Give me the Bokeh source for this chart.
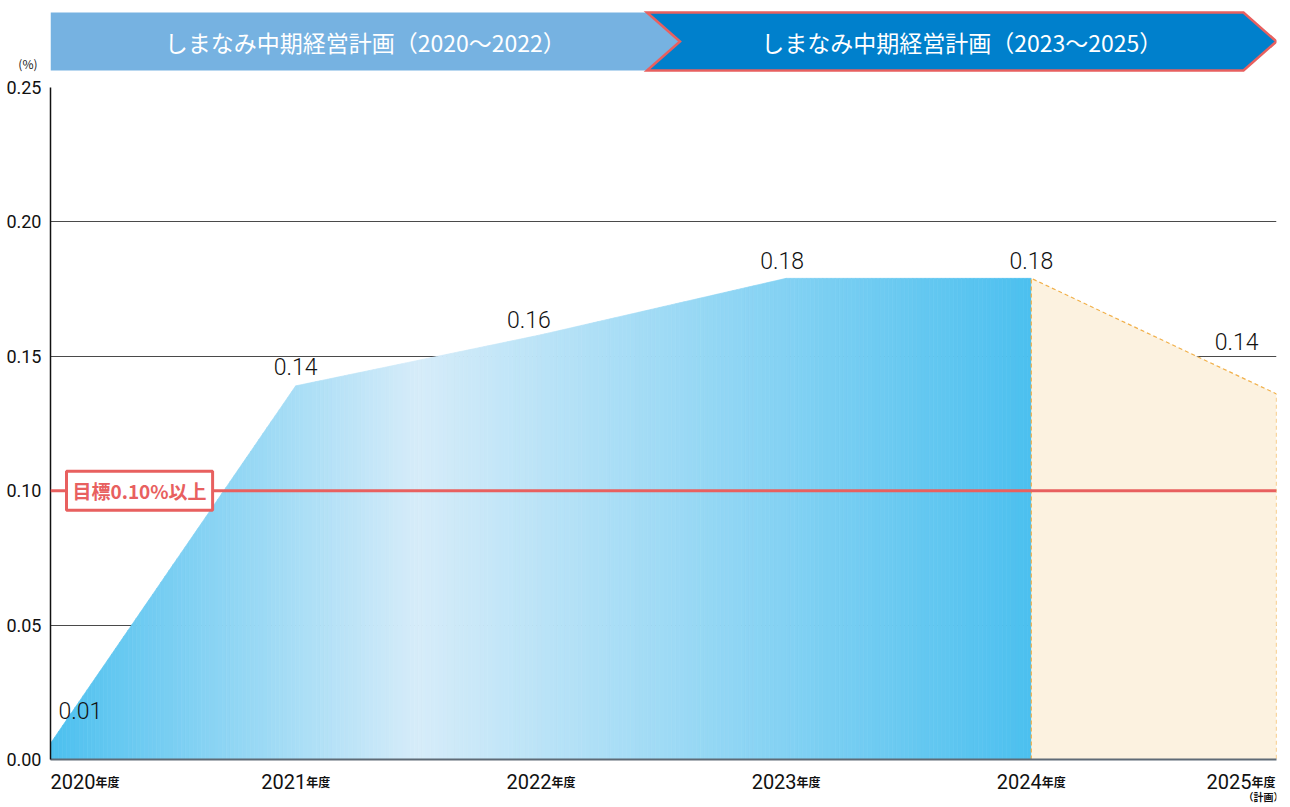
import numpy as np
from bokeh.plotting import figure
from bokeh.layouts import column
from bokeh.models import Range1d, FixedTicker, Label, Span, ColumnDataSource, NumeralTickFormatter
from bokeh.core.properties import value
from bokeh.embed import file_html
from bokeh.resources import INLINE

# ---------------- data ----------------
years = [2020, 2021, 2022, 2023, 2024, 2025]
ratios = [0.006, 0.139, 0.158, 0.179, 0.179, 0.136]
ratio_labels = ["0.01", "0.14", "0.16", "0.18", "0.18", "0.14"]
year_labels = ["2020", "2021", "2022", "2023", "2024", "2025"]
year_suffix = "年度"
plan_note = "（計画）"
last_actual_year = 2024
target = 0.10
target_label = "目標0.10%以上"
plan_names = ["しまなみ中期経営計画（2020〜2022）", "しまなみ中期経営計画（2023〜2025）"]
plan_bounds = [2020, 2022.5, 2025]
y_ticks = [0.0, 0.05, 0.10, 0.15, 0.20, 0.25]
unit_label = "(%)"

# ---------------- style / layout ----------------
NUM = "Roboto"
JP = "Noto Sans CJK JP"
grad_stops_x = [2020, 2021.5, 2024]
grad_stops_rgb = [(0x4c, 0xc0, 0xef), (0xd6, 0xec, 0xf9), (0x4c, 0xc0, 0xef)]
plan_fill = "#fcf2e0"
plan_line = "#f1b04a"
target_color = "#e8605f"
banner_colors = ["#76b2e1", "#0080cc"]

W = 1282
LEFT, RIGHT = 50, 6
FRAME_W = W - LEFT - RIGHT
year_px = FRAME_W / (years[-1] - years[0])

x_range = Range1d(years[0], years[-1])


def strip(height, y_range, with_axis=False):
    f = figure(width=W, height=height, x_range=x_range, y_range=y_range,
               output_backend="svg", toolbar_location=None,
               x_axis_location=None, y_axis_location="left" if with_axis else None,
               min_border_left=0, min_border_right=0, min_border_top=0, min_border_bottom=0)
    f.grid.visible = False
    f.outline_line_color = None
    return f


# ---------------- banner strip (pixel units vertically) ----------------
BH = 58  # banner height in px
b = strip(72, Range1d(-2, 70), with_axis=True)
h = 16.5 / year_px  # half arrow depth in years
s0, mid, s1 = plan_bounds
left_xs = [s0, mid - h, mid + h, mid - h, s0]
left_ys = [BH, BH, BH / 2, 0, 0]
right_xs = [mid - h, s1 - 2 * h, s1, s1 - 2 * h, mid - h, mid + h]
right_ys = [BH, BH, BH / 2, 0, 0, BH / 2]
b.patch(left_xs, left_ys, fill_color=banner_colors[0], line_color=None)
b.patch(right_xs, right_ys, fill_color=banner_colors[1], line_color=target_color, line_width=2.5,
        line_join="miter")
b.text(x=[(s0 + mid + h) / 2, (mid + h + s1 - 2 * h) / 2], y=[BH / 2, BH / 2], text=plan_names,
       text_align="center", text_baseline="middle", text_color="white",
       text_font=value(JP), text_font_size="23px")
# unit "(%)" shown as the only tick label of the banner's left axis
b.yaxis.ticker = FixedTicker(ticks=[6])
b.yaxis.major_label_overrides = {6: unit_label}
b.yaxis.axis_line_color = None
b.yaxis.major_tick_line_color = None
b.yaxis.minor_tick_line_color = None
b.yaxis.major_label_standoff = 7
b.yaxis.major_label_text_font = JP
b.yaxis.major_label_text_font_size = "12px"
b.yaxis.major_label_text_color = "#222"

# ---------------- main chart ----------------
p = figure(width=W, height=698, x_range=x_range, y_range=Range1d(y_ticks[0], y_ticks[-1]),
           output_backend="svg", toolbar_location=None,
           min_border_left=LEFT, min_border_right=RIGHT, min_border_top=15, min_border_bottom=11)
p.outline_line_color = None
p.xgrid.visible = False
p.ygrid.ticker = FixedTicker(ticks=y_ticks)
p.ygrid.grid_line_color = "#4a4a4a"
p.ygrid.grid_line_width = 1

p.yaxis.ticker = FixedTicker(ticks=y_ticks)
p.yaxis.formatter = NumeralTickFormatter(format="0.00")
p.yaxis.major_tick_line_color = None
p.yaxis.minor_tick_line_color = None
p.yaxis.major_label_standoff = 3
p.yaxis.major_label_text_font = NUM
p.yaxis.major_label_text_font_size = "18px"
p.yaxis.major_label_text_color = "#111"
p.yaxis.axis_line_color = "#111"
p.yaxis.axis_line_width = 1.5

p.xaxis.ticker = FixedTicker(ticks=[])
p.xaxis.major_label_text_font_size = "0px"
p.xaxis.major_tick_line_color = None
p.xaxis.minor_tick_line_color = None
p.xaxis.axis_line_color = "#5f6b76"
p.xaxis.axis_line_width = 2

# gradient area (actual results) drawn as thin vertical slices under the data line
ix = years.index(last_actual_year)
act_x = years[: ix + 1]
act_y = ratios[: ix + 1]
edges = np.linspace(act_x[0], act_x[-1], 241)
tops = np.interp(edges, act_x, act_y)
xs, ys, cols = [], [], []
for i in range(len(edges) - 1):
    e0, e1 = edges[i], edges[i + 1]
    xs.append([e0, e1, e1, e0])
    ys.append([0, 0, tops[i + 1], tops[i]])
    m = (e0 + e1) / 2
    rgb = [int(round(np.interp(m, grad_stops_x, [c[k] for c in grad_stops_rgb]))) for k in range(3)]
    cols.append("#%02x%02x%02x" % tuple(rgb))
p.patches(xs, ys, fill_color=cols, line_color=cols, line_width=0.7)

# plan area
plan_x = years[ix:]
plan_y = ratios[ix:]
p.varea(x=plan_x, y1=[0] * len(plan_x), y2=plan_y, fill_color=plan_fill)
p.line([plan_x[0]] + plan_x + [plan_x[-1]], [0] + plan_y + [0],
       line_color=plan_line, line_width=1.2, line_dash="4 3")

# target line and its box
p.add_layout(Span(location=target, dimension="width", line_color=target_color, line_width=3))
p.add_layout(Label(x=years[0], y=target, x_offset=16, text=target_label,
                   text_align="left", text_baseline="middle", text_color=target_color,
                   text_font=JP, text_font_style="bold", text_font_size="19px",
                   background_fill_color="white", border_line_color=target_color,
                   border_line_width=3, padding=6))

# value labels
lab_align = ["left", "center", "center", "center", "center", "right"]
lab_dx = [8, 0, -12, -4, 0, -18]
lab_dy = [-33, -19, -15, -18, -18, -52]
src = ColumnDataSource(dict(x=years, y=ratios, t=ratio_labels, a=lab_align, dx=lab_dx, dy=lab_dy))
p.text(x="x", y="y", text="t", text_align="a", x_offset="dx", y_offset="dy", source=src,
       text_baseline="alphabetic", text_font=value("Roboto Light"), text_font_size="23px",
       text_color="#111")

# ---------------- x label strip ----------------
xl = strip(37, Range1d(0, 1))
num_w, suf_w = 45, 24
splits = []
for i in range(len(years)):
    if i == 0:
        splits.append(num_w)
    elif i == len(years) - 1:
        splits.append(-suf_w - 1)
    else:
        splits.append(num_w - (num_w + suf_w) / 2)
xl.text(x=years, y=[0.5] * len(years), text=year_labels, x_offset=splits, y_offset=-8,
        text_align="right", text_baseline="alphabetic", text_font=value(NUM),
        text_font_size="20px", text_color="#111")
xl.text(x=years, y=[0.5] * len(years), text=[year_suffix] * len(years), x_offset=splits, y_offset=-8,
        text_align="left", text_baseline="alphabetic", text_font=value(JP), text_font_style="bold",
        text_font_size="12px", text_color="#111")
plan_years = [yr for yr in years if yr > last_actual_year]
plan_splits = [s + suf_w / 2 for yr, s in zip(years, splits) if yr > last_actual_year]
xl.text(x=plan_years, y=[0.5] * len(plan_years), text=[plan_note] * len(plan_years),
        x_offset=plan_splits, y_offset=7, text_align="center", text_baseline="middle",
        text_font=value(JP), text_font_style="bold", text_font_size="10px", text_color="#111")

layout = column(b, p, xl, spacing=0)
open("out.html", "w").write(file_html(layout, INLINE))
